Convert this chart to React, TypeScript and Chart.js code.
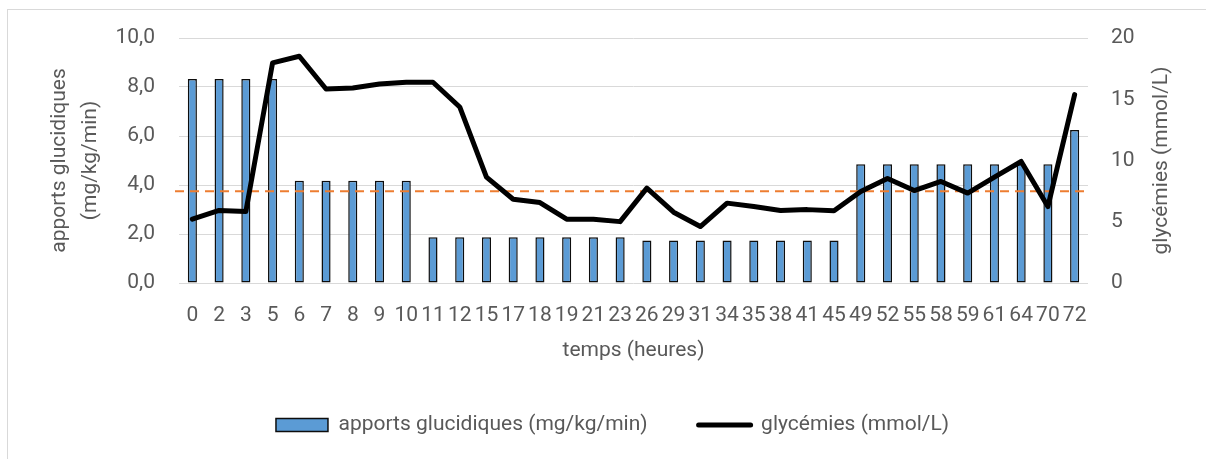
import React, { useEffect, useRef } from "react";
import { Chart, registerables } from "chart.js";

Chart.register(...registerables);

const FONT = "Roboto";
const TEXT_COLOR = "#595959";
const GRID_COLOR = "#d9d9d9";

const categories = [
  "0", "2", "3", "5", "6", "7", "8", "9", "10", "11", "12", "15", "17", "18", "19", "21", "23",
  "26", "29", "31", "34", "35", "38", "41", "45", "49", "52", "55", "58", "59", "61", "64", "70", "72",
];

const apports = [
  8.33, 8.33, 8.33, 8.33,
  4.17, 4.17, 4.17, 4.17, 4.17,
  1.87, 1.87, 1.87, 1.87, 1.87, 1.87, 1.87, 1.87,
  1.73, 1.73, 1.73, 1.73, 1.73, 1.73, 1.73, 1.73,
  4.85, 4.85, 4.85, 4.85, 4.85, 4.85, 4.85, 4.85,
  6.24,
];

const glycemies = [
  5.21, 5.92, 5.83, 17.97, 18.51, 15.84, 15.92, 16.25, 16.39, 16.39, 14.37, 8.64, 6.84, 6.57, 5.21, 5.21, 5.01,
  7.74, 5.78, 4.61, 6.52, 6.25, 5.92, 5.99, 5.89, 7.47, 8.53, 7.55, 8.29, 7.34, 8.65, 9.92, 6.24, 15.38,
];

const THRESHOLD = 7.5; // mmol/L, dashed reference line

const leftTicks = [0, 2, 4, 6, 8, 10];
const rightTicks = [0, 5, 10, 15, 20];

const BAR_LABEL = "apports glucidiques (mg/kg/min)";
const LINE_LABEL = "glycémies (mmol/L)";
const LEFT_TITLE = ["apports glucidiques", "(mg/kg/min)"];
const RIGHT_TITLE = "glycémies (mmol/L)";
const X_TITLE = "temps (heures)";

const thresholdPlugin = {
  id: "thresholdLine",
  afterDatasetDraw(chart: any, args: any) {
    if (args.index !== 0) return;
    const { ctx, chartArea } = chart;
    const y = chart.scales.y1.getPixelForValue(THRESHOLD);
    ctx.save();
    ctx.strokeStyle = "#ED7D31";
    ctx.lineWidth = 2;
    ctx.setLineDash([9, 6]);
    ctx.beginPath();
    ctx.moveTo(chartArea.left - 4, y);
    ctx.lineTo(chartArea.right, y);
    ctx.stroke();
    ctx.restore();
  },
};

const rightTitlePlugin = {
  id: "rightTitle",
  afterDraw(chart: any) {
    const { ctx, chartArea } = chart;
    ctx.save();
    ctx.translate(chartArea.right + 74, (chartArea.top + chartArea.bottom) / 2);
    ctx.rotate(-Math.PI / 2);
    ctx.font = `21px ${FONT}`;
    ctx.fillStyle = TEXT_COLOR;
    ctx.textAlign = "center";
    ctx.textBaseline = "middle";
    ctx.fillText(RIGHT_TITLE, 0, 0);
    ctx.restore();
  },
};

export default function App() {
  const ref = useRef<HTMLCanvasElement | null>(null);

  useEffect(() => {
    if (!ref.current) return;
    Chart.defaults.font.family = FONT;
    const chart = new Chart(ref.current, {
      type: "bar",
      data: {
        labels: categories,
        datasets: [
          {
            type: "bar",
            label: BAR_LABEL,
            data: apports,
            backgroundColor: "#5B9BD5",
            borderColor: "#0d0d0d",
            borderWidth: 1.5,
            borderSkipped: false,
            barPercentage: 0.34,
            categoryPercentage: 1,
            yAxisID: "y",
            order: 1,
          } as any,
          {
            type: "line",
            label: LINE_LABEL,
            data: glycemies,
            borderColor: "#000000",
            backgroundColor: "#000000",
            borderWidth: 5,
            pointRadius: 0,
            tension: 0,
            borderJoinStyle: "round",
            borderCapStyle: "round",
            yAxisID: "y1",
            order: 0,
          } as any,
        ],
      },
      options: {
        responsive: false,
        animation: false,
        layout: { padding: { left: 19, right: 0, top: 38, bottom: 13.5 } },
        plugins: {
          tooltip: { enabled: false },
          legend: {
            position: "bottom",
            labels: {
              color: TEXT_COLOR,
              font: { size: 21, family: FONT },
              padding: 51,
              usePointStyle: true,
              pointStyleWidth: 52,
              boxHeight: 13,
              sort: (a: any, b: any) => a.datasetIndex - b.datasetIndex,
              generateLabels(chart: any) {
                const items = Chart.defaults.plugins.legend.labels.generateLabels(chart);
                return items.map((it: any) => ({
                  ...it,
                  pointStyle: it.datasetIndex === 0 ? "rect" : "line",
                  lineWidth: it.datasetIndex === 0 ? 1.5 : 5,
                  lineCap: "round",
                }));
              },
            },
          },
        },
        scales: {
          x: {
            grid: { display: false, drawTicks: false },
            border: { display: false },
            ticks: {
              color: TEXT_COLOR,
              font: { size: 21 },
              padding: 20,
              autoSkip: false,
              maxRotation: 0,
              minRotation: 0,
            },
            title: {
              display: true,
              text: X_TITLE,
              color: TEXT_COLOR,
              font: { size: 21 },
              padding: { top: 0, bottom: 0 },
            },
            afterFit(scale: any) {
              scale.height = 80.5;
            },
          },
          y: {
            position: "left",
            min: 0,
            max: 10,
            afterBuildTicks(scale: any) {
              scale.ticks = leftTicks.map((v) => ({ value: v }));
            },
            grid: { color: GRID_COLOR, lineWidth: 1, drawTicks: false },
            border: { display: false },
            ticks: {
              color: TEXT_COLOR,
              font: { size: 21 },
              padding: 24,
              callback: (v: any) => Number(v).toFixed(1).replace(".", ","),
            },
            title: {
              display: true,
              text: LEFT_TITLE,
              color: TEXT_COLOR,
              font: { size: 21, lineHeight: 1.476 },
              padding: { top: 25.5, bottom: 0 },
            },
            afterFit(scale: any) {
              scale.width = 160;
            },
          },
          y1: {
            position: "right",
            min: 0,
            max: 20,
            afterBuildTicks(scale: any) {
              scale.ticks = rightTicks.map((v) => ({ value: v }));
            },
            grid: { display: false, drawTicks: false },
            border: { display: false },
            ticks: {
              color: TEXT_COLOR,
              font: { size: 21 },
              padding: 23,
            },
            afterFit(scale: any) {
              scale.width = 118;
            },
          },
        },
      },
      plugins: [thresholdPlugin, rightTitlePlugin],
    });
    return () => chart.destroy();
  }, []);

  return (
    <div
      style={{
        position: "fixed",
        left: 0,
        top: 0,
        width: 1206,
        height: 459,
        overflow: "hidden",
        background: "#ffffff",
      }}
    >
      <div
        style={{
          position: "absolute",
          left: 7,
          top: 9,
          width: 1400,
          height: 800,
          border: "1px solid #d9d9d9",
        }}
      />
      <canvas
        ref={ref}
        width={1206}
        height={459}
        style={{ position: "absolute", left: 0, top: 0, width: 1206, height: 459 }}
      />
    </div>
  );
}
